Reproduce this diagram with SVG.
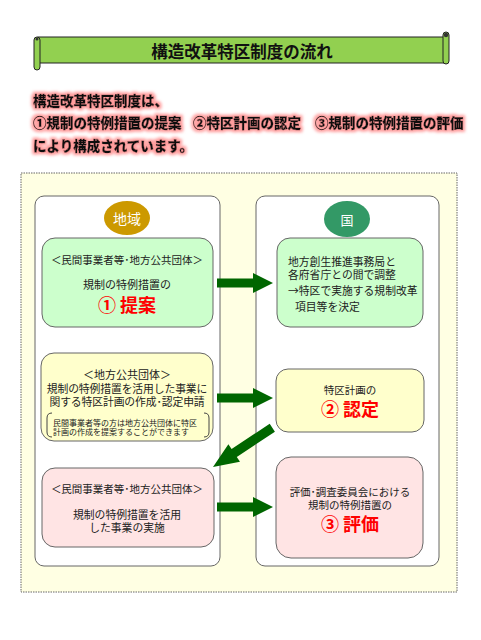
<svg xmlns="http://www.w3.org/2000/svg" width="481" height="640" viewBox="0 0 481 640">
<defs>
<style>
text{font-family:"Noto Sans CJK JP","Noto Sans CJK SC",sans-serif;dominant-baseline:central;fill:#222}
.panel{fill:#fff;stroke:#666;stroke-width:1}
.box{stroke:#666;stroke-width:1}
.g{fill:#ccffcc}.y{fill:#ffffcc}.p{fill:#ffe4e4}
.t{font-size:10.5px}
.c{text-anchor:middle}
.red{fill:#ff0000;font-weight:bold;font-size:18px}
.intro{font-size:13.5px;font-weight:900;fill:#111;stroke:#111;stroke-width:0.35}
.arrow{fill:#006600}
</style>
<filter id="glow" x="-10%" y="-50%" width="120%" height="200%">
<feMorphology in="SourceAlpha" operator="dilate" radius="2" result="d"/>
<feFlood flood-color="#ff9c9c"/>
<feComposite in2="d" operator="in" result="c"/>
<feGaussianBlur in="c" stdDeviation="1.8" result="b"/>
<feMerge><feMergeNode in="b"/><feMergeNode in="SourceGraphic"/></feMerge>
</filter>
<path id="arr" d="M-56,-4.5 L-20,-4.5 L-20,-10 L0,0 L-20,10 L-20,4.5 L-56,4.5 Z"/>
</defs>
<rect width="481" height="640" fill="#fff"/>

<g id="title">
<rect x="38" y="37" width="408" height="26" fill="#92d050" stroke="#222" stroke-width="1"/>
<rect x="34" y="37" width="6" height="33" rx="3" fill="#92d050" stroke="#222" stroke-width="1"/>
<rect x="443" y="32" width="6" height="32" rx="3" fill="#92d050" stroke="#222" stroke-width="1"/>
<circle cx="446" cy="35" r="2.2" fill="#333"/>
<circle cx="37" cy="39" r="1.5" fill="#333"/>
<text x="242" y="51" class="c" style="font-size:16.5px;font-weight:bold;fill:#111">構造改革特区制度の流れ</text>
</g>

<g id="intro" filter="url(#glow)">
<text x="33" y="100" class="intro">構造改革特区制度は、</text>
<text x="33" y="122" class="intro">①規制の特例措置の提案</text>
<text x="193" y="122" class="intro">②特区計画の認定</text>
<text x="315" y="122" class="intro">③規制の特例措置の評価</text>
<text x="33" y="145" class="intro">により構成されています。</text>
</g>

<rect id="frame" x="21" y="173" width="436" height="419" fill="#ffffe3" stroke="#666" stroke-width="1" stroke-dasharray="1.5 1"/>

<g id="panel-region">
<rect x="35" y="196" width="185" height="370" rx="9" class="panel"/>
<ellipse cx="127" cy="218" rx="23" ry="17" fill="#cc9900"/>
<text x="127" y="218" class="c" style="font-size:14px;fill:#fff">地域</text>
</g>
<g id="panel-nation">
<rect x="256" y="196" width="183" height="370" rx="9" class="panel"/>
<ellipse cx="347" cy="219" rx="23" ry="18" fill="#339966"/>
<text x="347" y="219" class="c" style="font-size:13px;fill:#fff">国</text>
</g>

<g id="node-proposal">
<rect x="42" y="238" width="171" height="89" rx="13" class="box g"/>
<text x="127" y="259" class="c t">＜民間事業者等･地方公共団体＞</text>
<text x="127" y="284" class="c t" style="font-size:11px">規制の特例措置の</text>
<text x="127" y="304" class="c red">① 提案</text>
</g>

<g id="node-coordination">
<rect x="277" y="238" width="146" height="89" rx="13" class="box g"/>
<text x="288" y="261" style="font-size:10.8px">地方創生推進事務局と</text>
<text x="288" y="274" style="font-size:10.8px">各府省庁との間で調整</text>
<text x="288" y="290" style="font-size:10.8px">→特区で実施する規制改革</text>
<text x="295" y="306" style="font-size:10.8px">項目等を決定</text>
</g>

<g id="node-application">
<rect x="41" y="353" width="172" height="88" rx="13" class="box y"/>
<text x="127" y="374" class="c" style="font-size:11px">＜地方公共団体＞</text>
<text x="127" y="387.5" class="c" style="font-size:10.8px;letter-spacing:-0.1px">規制の特例措置を活用した事業に</text>
<text x="127" y="401" class="c" style="font-size:10.8px;letter-spacing:-0.1px">関する特区計画の作成･認定申請</text>
<path d="M52,413 Q47,413 47,418 L47,432 Q47,437 52,437 M204,413 Q209,413 209,418 L209,432 Q209,437 204,437" fill="none" stroke="#444" stroke-width="1"/>
<text x="53" y="422" style="font-size:8px">民間事業者等の方は地方公共団体に特区</text>
<text x="53" y="431" style="font-size:8px">計画の作成を提案することができます</text>
</g>

<g id="node-certification">
<rect x="276" y="369" width="148" height="63" rx="12" class="box y"/>
<text x="350" y="389" class="c" style="font-size:10.5px">特区計画の</text>
<text x="350" y="408" class="c red">② 認定</text>
</g>

<g id="node-implementation">
<rect x="42" y="468" width="172" height="79" rx="13" class="box p"/>
<text x="127" y="488" class="c t">＜民間事業者等･地方公共団体＞</text>
<text x="127" y="514" class="c" style="font-size:10.8px">規制の特例措置を活用</text>
<text x="127" y="527" class="c" style="font-size:10.8px">した事業の実施</text>
</g>

<g id="node-evaluation">
<rect x="276" y="457" width="147" height="101" rx="15" class="box p"/>
<text x="350" y="491" class="c" style="font-size:10.5px">評価･調査委員会における</text>
<text x="350" y="504" class="c" style="font-size:10.5px">規制の特例措置の</text>
<text x="350" y="523" class="c red">③ 評価</text>
</g>

<g id="connectors" class="arrow">
<use href="#arr" transform="translate(273,283)"/>
<use href="#arr" transform="translate(273,398)"/>
<use href="#arr" transform="translate(213,467) rotate(146.5) scale(1.27,1.05)"/>
<use href="#arr" transform="translate(273,507)"/>
</g>
</svg>
